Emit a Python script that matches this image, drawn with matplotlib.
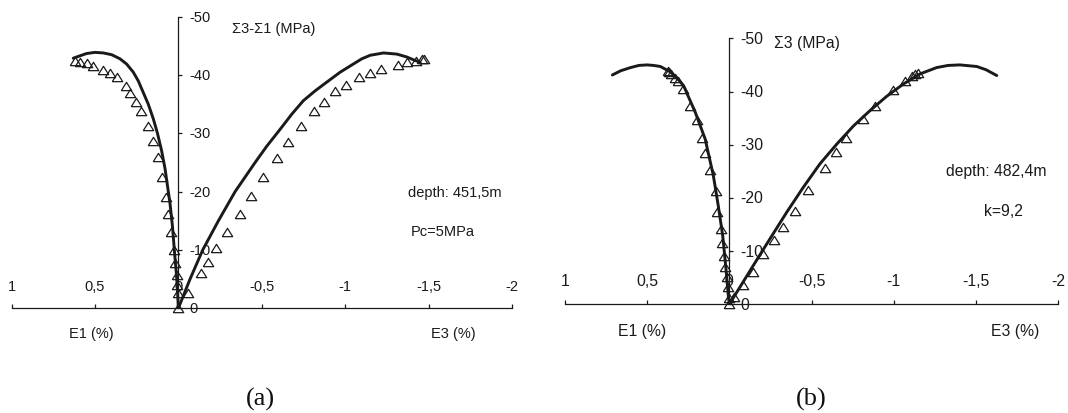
import matplotlib
matplotlib.use("Agg")
import matplotlib.pyplot as plt
from matplotlib.ticker import FixedLocator, FixedFormatter

plt.rcParams['font.family'] = ['Liberation Sans', 'DejaVu Sans']

# ---------------- data : panel (a) ----------------
a_line_e1_x = [0, 0.005, 0.012, 0.024, 0.035, 0.05, 0.065, 0.08, 0.10, 0.125, 0.15, 0.18,
               0.21, 0.24, 0.27, 0.31, 0.35, 0.40, 0.45, 0.50, 0.55, 0.60, 0.63]
a_line_e1_y = [0, -3, -6, -10, -14, -18, -21, -24, -27, -30, -32.5, -35,
               -37, -39, -40.5, -41.9, -42.8, -43.5, -43.8, -43.9, -43.7, -43.2, -42.9]
a_line_e3_x = [0, -0.07, -0.146, -0.24, -0.34, -0.40, -0.46, -0.53, -0.61, -0.68, -0.749,
               -0.82, -0.89, -0.97, -1.049, -1.10, -1.15, -1.23, -1.31, -1.37, -1.42, -1.45]
a_line_e3_y = [0, -5, -10, -15, -20, -22.5, -25, -27.8, -30.7, -33.3, -35.6,
               -37.3, -38.8, -40.5, -41.9, -42.8, -43.4, -43.8, -43.6, -43.1, -42.5, -42.2]
a_pts_e1_x = [0, 0.004, 0.006, 0.01, 0.02, 0.026, 0.044, 0.06, 0.076, 0.095, 0.12, 0.15,
              0.18, 0.224, 0.254, 0.29, 0.315, 0.37, 0.41, 0.453, 0.51, 0.55, 0.59, 0.62]
a_pts_e1_y = [0, -2.7, -4.0, -5.7, -7.7, -10.0, -13.1, -16.1, -19.1, -22.5, -25.9, -28.7,
              -31.2, -33.9, -35.4, -37.0, -38.2, -39.6, -40.3, -40.9, -41.6, -42.1, -42.3, -42.5]
a_pts_e3_x = [-0.06, -0.136, -0.18, -0.226, -0.29, -0.37, -0.436, -0.506, -0.59, -0.66,
              -0.736, -0.815, -0.874, -0.94, -1.005, -1.085, -1.149, -1.215, -1.315, -1.373,
              -1.425, -1.46, -1.475]
a_pts_e3_y = [-2.7, -6.0, -7.9, -10.3, -13.1, -16.1, -19.3, -22.5, -25.8, -28.6,
              -31.3, -33.9, -35.4, -37.2, -38.3, -39.6, -40.4, -41.0, -41.7, -42.2,
              -42.5, -42.7, -42.8]

# ---------------- data : panel (b) ----------------
b_line_e1_x = [0, 0.006, 0.02, 0.04, 0.067, 0.097, 0.147, 0.207, 0.278, 0.32, 0.359, 0.419,
               0.46, 0.5, 0.55, 0.6, 0.66, 0.711]
b_line_e1_y = [0, -1.6, -6.6, -12.9, -18.5, -24.2, -31.1, -36.1, -41.1, -42.6, -43.7, -44.7,
               -44.9, -45.0, -44.9, -44.5, -43.9, -43.1]
b_line_e3_x = [0, -0.146, -0.247, -0.349, -0.45, -0.551, -0.653, -0.754, -0.855, -0.957,
               -1.058, -1.159, -1.261, -1.33, -1.402, -1.504, -1.56, -1.626]
b_line_e3_y = [0, -7.3, -12.3, -17.3, -22.0, -26.4, -30.1, -33.5, -36.4, -39.1,
               -41.4, -43.3, -44.5, -44.9, -45.0, -44.7, -44.1, -43.0]
b_pts_e1_x = [0, 0.004, 0.01, 0.017, 0.025, 0.032, 0.042, 0.052, 0.074, 0.083, 0.118, 0.148,
              0.163, 0.195, 0.24, 0.283, 0.31, 0.333, 0.356, 0.366, 0.372]
b_pts_e1_y = [0, -1.2, -3.3, -5.2, -7.1, -9.1, -11.6, -14.1, -17.4, -21.3, -25.3, -28.4,
              -31.2, -34.7, -37.2, -40.4, -41.9, -42.6, -43.2, -43.6, -43.9]
b_pts_e3_x = [-0.029, -0.081, -0.146, -0.207, -0.272, -0.325, -0.399, -0.477, -0.582, -0.647,
              -0.709, -0.811, -0.886, -0.993, -1.068, -1.109, -1.129, -1.145]
b_pts_e3_y = [-1.3, -3.6, -6.1, -9.5, -12.0, -14.5, -17.6, -21.5, -25.6, -28.6,
              -31.2, -34.8, -37.3, -40.2, -42.0, -42.9, -43.3, -43.5]

x_ticks = [1, 0.5, 0, -0.5, -1, -1.5, -2]
x_tick_labels = ["1", "0,5", "0", "-0,5", "-1", "-1,5", "-2"]
y_ticks = [0, -10, -20, -30, -40, -50]
y_tick_labels = ["0", "-10", "-20", "-30", "-40", "-50"]

INK = "#1a1a1a"
W, H = 1068, 414
fig = plt.figure(figsize=(W / 100, H / 100), dpi=100)

tri = [(-1, -0.8), (1, -0.8), (0, 0.8), (-1, -0.8)]


def setup(ax, fs, xpad):
    ax.set_xlim(1, -2)
    ax.set_ylim(0, -50)
    ax.patch.set_alpha(0)
    for s in ("left", "bottom"):
        ax.spines[s].set_visible(False)
    ax.spines["top"].set_position(("data", 0))
    ax.spines["right"].set_position(("data", 0))
    for s in ("top", "right"):
        ax.spines[s].set_linewidth(0.9)
        ax.spines[s].set_color(INK)
    ax.xaxis.tick_top()
    ax.yaxis.tick_right()
    ax.xaxis.set_major_locator(FixedLocator(x_ticks))
    ax.xaxis.set_major_formatter(FixedFormatter(x_tick_labels))
    ax.yaxis.set_major_locator(FixedLocator(y_ticks))
    ax.yaxis.set_major_formatter(FixedFormatter(y_tick_labels))
    ax.tick_params(axis="x", direction="out", length=3, width=0.9, pad=xpad,
                   labelsize=fs, colors=INK)
    ax.tick_params(axis="y", direction="out", length=3, width=0.9, pad=5,
                   labelsize=fs, colors=INK)
    for lab in ax.get_yticklabels():
        lab.set_verticalalignment("center")


def draw(ax, lx1, ly1, lx3, ly3, px1, py1, px3, py3):
    ax.plot(lx1, ly1, color=INK, lw=2.1, solid_capstyle="round",
            solid_joinstyle="round", zorder=3)
    ax.plot(lx3, ly3, color=INK, lw=2.1, solid_capstyle="round",
            solid_joinstyle="round", zorder=3)
    for px, py in ((px1, py1), (px3, py3)):
        ax.plot(px, py, linestyle="none", marker=tri, markersize=7.5,
                markerfacecolor="none", markeredgecolor=INK, markeredgewidth=0.9,
                zorder=4, clip_on=False)


# ---- panel (a) ----
axA = fig.add_axes([11.5 / W, (H - 309.3) / H, 500.5 / W, 291.5 / H])
setup(axA, 10.5, 8)
draw(axA, a_line_e1_x, a_line_e1_y, a_line_e3_x, a_line_e3_y,
     a_pts_e1_x, a_pts_e1_y, a_pts_e3_x, a_pts_e3_y)
axA.text(-0.32, -48.1, "Σ3-Σ1 (MPa)", fontsize=10.5, color=INK, ha="left", va="center")
axA.text(-1.66, -20.0, "depth: 451,5m", fontsize=10.5, color=INK, ha="center", va="center")
axA.text(-1.585, -13.2, "Pc=5MPa", fontsize=10.5, color=INK, ha="center", va="center")
axA.annotate("E1 (%)", xy=(0.524, 0), xytext=(0, -25), textcoords="offset pixels",
             fontsize=10.5, color=INK, ha="center", va="center")
axA.annotate("E3 (%)", xy=(-1.648, 0), xytext=(0, -25), textcoords="offset pixels",
             fontsize=10.5, color=INK, ha="center", va="center")

# ---- panel (b) ----
axB = fig.add_axes([564.8 / W, (H - 305.3) / H, 493.5 / W, 266 / H])
setup(axB, 11.3, 9)
draw(axB, b_line_e1_x, b_line_e1_y, b_line_e3_x, b_line_e3_y,
     b_pts_e1_x, b_pts_e1_y, b_pts_e3_x, b_pts_e3_y)
axB.text(-0.27, -49.2, "Σ3 (MPa)", fontsize=11.3, color=INK, ha="left", va="center")
axB.text(-1.625, -25.2, "depth: 482,4m", fontsize=11.3, color=INK, ha="center", va="center")
axB.text(-1.667, -17.6, "k=9,2", fontsize=11.3, color=INK, ha="center", va="center")
axB.annotate("E1 (%)", xy=(0.528, 0), xytext=(0, -26), textcoords="offset pixels",
             fontsize=11.3, color=INK, ha="center", va="center")
axB.annotate("E3 (%)", xy=(-1.739, 0), xytext=(0, -26), textcoords="offset pixels",
             fontsize=11.3, color=INK, ha="center", va="center")

fig.text(260 / W, 1 - 399 / H, "(a)", family="Liberation Serif", fontsize=19,
         ha="center", va="center", color="#111111")
fig.text(811 / W, 1 - 399 / H, "(b)", family="Liberation Serif", fontsize=19,
         ha="center", va="center", color="#111111")

fig.savefig("out.png", dpi=100)
